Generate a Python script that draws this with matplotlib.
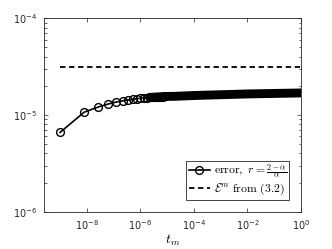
import matplotlib
matplotlib.use("Agg")
import matplotlib.pyplot as plt
from matplotlib.font_manager import FontProperties

# error at the time levels t_m
t_m = [1e-9, 8e-9, 2.7e-8, 6.4e-8, 1.25e-7, 2.16e-7, 3.43e-7, 5.12e-7, 7.29e-7, 1e-6,
       1.33e-6, 1.73e-6, 2.2e-6, 2.74e-6, 3.38e-6, 4.1e-6, 4.91e-6, 5.83e-6, 6.86e-6, 8e-6,
       2e-5, 1e-4, 1e-3, 1e-2, 1e-1, 1.0]
err = [6.6e-6, 1.07e-5, 1.21e-5, 1.30e-5, 1.36e-5, 1.40e-5, 1.43e-5, 1.45e-5, 1.47e-5, 1.49e-5,
       1.50e-5, 1.51e-5, 1.52e-5, 1.525e-5, 1.53e-5, 1.535e-5, 1.54e-5, 1.545e-5, 1.55e-5, 1.553e-5,
       1.56e-5, 1.59e-5, 1.62e-5, 1.65e-5, 1.67e-5, 1.69e-5]
bound = 3.1e-5  # E^m from (3.2)
n_sparse = 12   # after this the markers merge into a solid band
n_marked = 20

fig = plt.figure(figsize=(3.32, 2.49), dpi=100)
ax = fig.add_axes([0.1325, 0.150, 0.774, 0.7765])

ax.plot(t_m, err, '-o', color='k', lw=1.2, ms=5.6, mfc='none', mew=1.0,
        markevery=list(range(n_marked)),
        label=r'$\mathrm{error},\ r = \frac{2-\alpha}{\alpha}$')
# dense markers look like one thick stroke
ax.plot(t_m[n_sparse:], err[n_sparse:], '-', color='k', lw=6.4, solid_capstyle='round')
ax.plot([t_m[0], t_m[-1]], [bound, bound], '--', color='k', lw=1.3, dashes=(3, 2),
        label=r'$\mathcal{E}^m\ \mathrm{from}\ (3.2)$')

ax.set_xscale('log')
ax.set_yscale('log')
ax.set_xlim(10 ** -9.6, 1)
ax.set_ylim(1e-6, 1e-4)
ax.set_xticks([1e-8, 1e-6, 1e-4, 1e-2, 1])
ax.xaxis.set_minor_locator(matplotlib.ticker.NullLocator())
ax.tick_params(which='both', direction='in', top=True, right=True, labelsize=7,
               colors='0.15', width=0.5)
ax.tick_params(which='major', length=3, pad=5)
ax.tick_params(which='minor', length=1.8)
for s in ax.spines.values():
    s.set_color('0.15')
    s.set_linewidth(0.6)

ax.set_xlabel(r'$t_m$', fontsize=10, math_fontfamily='cm', labelpad=0)
leg = ax.legend(loc='lower right', prop=FontProperties(size=8.5, math_fontfamily='cm'),
                frameon=True, fancybox=False, edgecolor='0.15', framealpha=1,
                borderpad=0.2, handlelength=1.8, handletextpad=0.3, labelspacing=0.15,
                borderaxespad=1.0)
leg.get_frame().set_linewidth(0.6)

fig.savefig('out.png', dpi=100)
